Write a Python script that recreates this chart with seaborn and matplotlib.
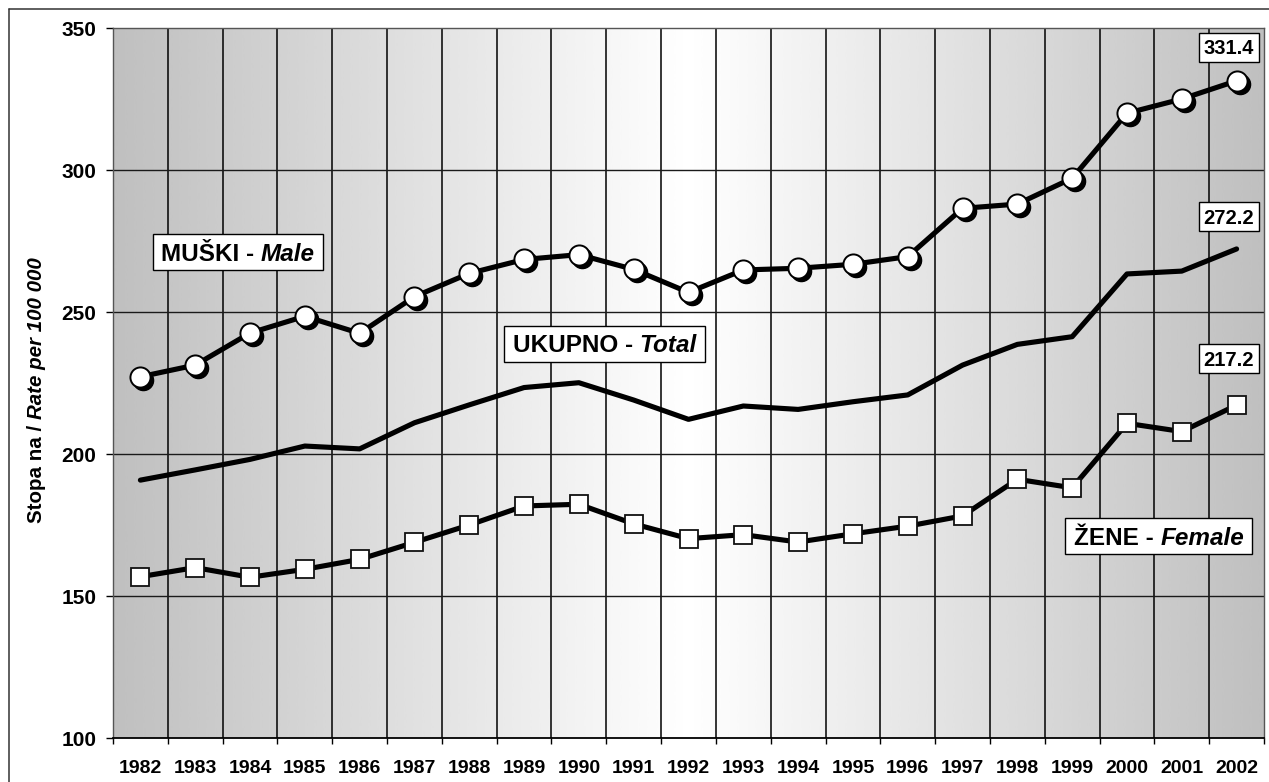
import numpy as np
import pandas as pd
import seaborn as sns
import matplotlib.pyplot as plt
from matplotlib import transforms
from matplotlib.lines import Line2D
from matplotlib.patches import Rectangle

# Incidence rate per 100 000, by year
years = [str(y) for y in range(1982, 2003)]
male = [227.2, 231.3, 242.6, 248.5, 242.5, 255.4, 263.6, 268.5, 270.2, 265.0, 256.9,
        264.8, 265.4, 266.8, 269.5, 286.5, 288.0, 297.1, 320.0, 325.0, 331.4]
total = [190.8, 194.4, 198.1, 202.8, 201.8, 211.0, 217.3, 223.4, 225.1, 219.0, 212.2,
         216.9, 215.7, 218.4, 220.8, 231.3, 238.6, 241.3, 263.4, 264.4, 272.2]
female = [156.8, 160.0, 156.6, 159.4, 162.9, 168.9, 175.0, 181.7, 182.3, 175.4, 170.2,
          171.6, 169.0, 171.9, 174.6, 178.2, 191.1, 188.1, 210.8, 207.9, 217.2]
y_ticks = [100, 150, 200, 250, 300, 350]

sns.set_theme(style="white")
plt.rcParams["font.family"] = ["Liberation Sans", "DejaVu Sans"]

DPI = 100
fig = plt.figure(figsize=(12.69, 7.82), dpi=DPI)
fig.patch.set_facecolor("white")
ax = fig.add_axes([113 / 1269, 44 / 782, 1151 / 1269, 710 / 782])

df = pd.DataFrame({"pos": np.arange(len(years)), "year": years,
                   "male": male, "total": total, "female": female})
n = len(years)

# horizontal gray-white-gray gradient behind the plot
t = np.linspace(0, 1, 512)
grad = 1.0 - 0.25 * np.abs(t - 0.5) * 2
ax.imshow(grad[np.newaxis, :], extent=(-0.5, n - 0.5, 100, 350), aspect="auto",
          cmap="gray", vmin=0, vmax=1, zorder=0, interpolation="bicubic")

ax.set_xlim(-0.5, n - 0.5)
ax.set_ylim(100, 350)

# grid: category boundaries and value gridlines
bounds = np.arange(-0.5, n, 1.0)
ax.set_xticks(df["pos"])
ax.set_xticklabels(years)
ax.set_xticks(bounds, minor=True)
ax.set_yticks(y_ticks)
for b in bounds[1:-1]:
    ax.axvline(b, color="black", lw=1.1, zorder=1)
for v in y_ticks[1:-1]:
    ax.axhline(v, color="#1a1a1a", lw=1.0, zorder=1)

ax.tick_params(axis="x", which="major", length=0, pad=16, labelsize=14)
ax.tick_params(axis="x", which="minor", length=4.5, width=1.0, color="black",
               direction="out", bottom=True)
ax.tick_params(axis="y", which="major", length=5, width=1.0, color="black",
               direction="out", left=True, pad=7, labelsize=15)
for lab in ax.get_xticklabels() + ax.get_yticklabels():
    lab.set_fontweight("bold")
    lab.set_color("black")

for side in ["top", "right", "left"]:
    ax.spines[side].set_color("#555555")
    ax.spines[side].set_linewidth(1.0)
ax.spines["bottom"].set_color("black")
ax.spines["bottom"].set_linewidth(1.3)

LW = 3.7
# total: plain line
sns.lineplot(data=df, x="pos", y="total", color="black", lw=LW, ax=ax, zorder=3)

# female: line with white squares
sns.lineplot(data=df, x="pos", y="female", color="black", lw=LW, ax=ax, zorder=3)
ax.plot(df["pos"], df["female"], ls="none", marker="s", ms=12.3, mfc="white",
        mec="#111111", mew=1.3, zorder=5)

# male: line with shadowed white circles
sns.lineplot(data=df, x="pos", y="male", color="black", lw=LW, ax=ax, zorder=3)
shadow = transforms.offset_copy(ax.transData, fig=fig, x=3, y=-3, units="dots")
ax.plot(df["pos"], df["male"], ls="none", marker="o", ms=14.5, mfc="black",
        mec="black", transform=shadow, zorder=4)
ax.plot(df["pos"], df["male"], ls="none", marker="o", ms=14.5, mfc="white",
        mec="black", mew=1.4, zorder=5)
ax.set_xlabel("")
ax.set_ylabel("")


def mixed_label(parts, x, y, base, size, rotation=0, box=None):
    """Draw bold text pieces (some italic) side by side, centred on (x, y)."""
    px = size * DPI / 72.0
    arts = []
    for s, style in parts:
        arts.append(fig.text(x, y, s, transform=base, fontsize=size,
                             fontweight="bold", style=style, color="black",
                             rotation=rotation, rotation_mode="anchor",
                             ha="left", va="baseline", zorder=4))
    fig.canvas.draw()
    r = fig.canvas.get_renderer()
    lens = []
    for a in arts:
        bb = a.get_window_extent(r)
        lens.append(bb.width if rotation == 0 else bb.height)
    gap = 0.278 * px if len(parts) > 1 else 0.0
    tot = sum(lens) + gap * (len(parts) - 1)
    cap = 0.716 * px
    off = -tot / 2
    for a, L in zip(arts, lens):
        if rotation == 0:
            a.set_transform(transforms.offset_copy(base, fig=fig, x=off, y=-cap / 2, units="dots"))
        else:
            a.set_transform(transforms.offset_copy(base, fig=fig, x=cap / 2, y=off, units="dots"))
        off += L + gap
    if box is not None:
        padx, h = box
        cx, cy = base.transform((x, y))
        rect = Rectangle((cx - tot / 2 - padx, cy - h / 2), tot + 2 * padx, h,
                         transform=transforms.IdentityTransform(), facecolor="white",
                         edgecolor="black", lw=1.0, zorder=3.5)
        fig.add_artist(rect)
    return arts


# series names
mixed_label([("MUŠKI -", "normal"), ("Male", "italic")], 1.78, 271.1, ax.transData,
            17.5, box=(8.5, 36))
mixed_label([("UKUPNO -", "normal"), ("Total", "italic")], 8.47, 238.9, ax.transData,
            17.5, box=(8.5, 36))
mixed_label([("ŽENE -", "normal"), ("Female", "italic")], 18.58, 171.0, ax.transData,
            17.5, box=(8.5, 36))

# end-of-series values
for val, yy in [(male[-1], 343.3), (total[-1], 283.6), (female[-1], 233.6)]:
    mixed_label([(f"{val:.1f}", "normal")], n - 1 - 0.14, yy, ax.transData, 14.5,
                box=(4.5, 29))

# y axis title
mixed_label([("Stopa na /", "normal"), ("Rate per 100 000", "italic")],
            35 / 1269, 1 - 390 / 782, fig.transFigure, 14.8, rotation=90)

# outer frame
fig.add_artist(Line2D([8.5 / 1269, 8.5 / 1269], [0, 1 - 8.5 / 782], color="#333333",
                      lw=1.1, transform=fig.transFigure))
fig.add_artist(Line2D([8.5 / 1269, 1], [1 - 8.5 / 782, 1 - 8.5 / 782], color="#333333",
                      lw=1.1, transform=fig.transFigure))

fig.savefig("out.png", dpi=DPI)
